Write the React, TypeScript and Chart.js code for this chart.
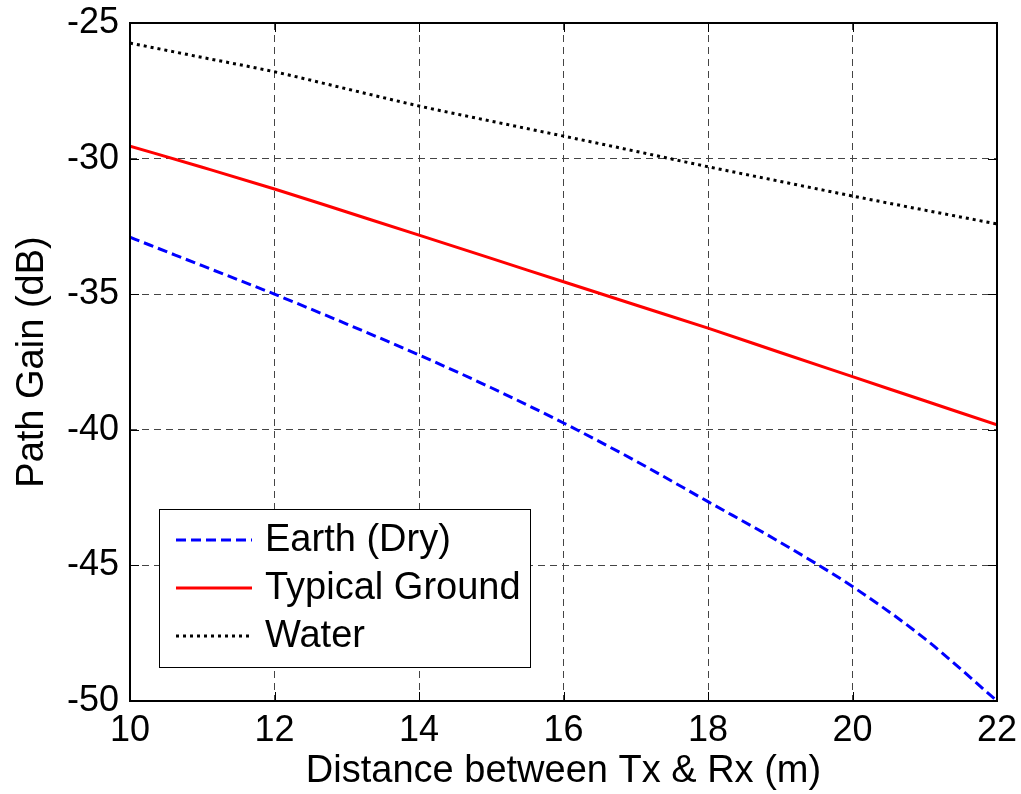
import { useEffect, useRef } from "react";
import { Chart, registerables } from "chart.js";

Chart.register(...registerables);

// ---- data ----
const distances = [10, 11, 12, 13, 14, 15, 16, 17, 18, 19, 20, 21, 22];
const earthDry = [-32.9, -33.95, -35.0, -36.1, -37.24, -38.45, -39.75, -41.15, -42.65, -44.15, -45.78, -47.7, -50.0];
const typicalGround = [-29.54, -30.32, -31.12, -31.97, -32.82, -33.68, -34.54, -35.4, -36.25, -37.15, -38.04, -38.93, -39.82];
const water = [-25.74, -26.27, -26.8, -27.43, -28.06, -28.62, -29.17, -29.73, -30.3, -30.84, -31.38, -31.9, -32.41];
const xTicks = [10, 12, 14, 16, 18, 20, 22];
const yTicks = [-25, -30, -35, -40, -45, -50];
const seriesLabels = ["Earth (Dry)", "Typical Ground", "Water"];
const xTitle = "Distance between Tx & Rx (m)";
const yTitle = "Path Gain (dB)";

const FONT_FAMILY = '"Liberation Sans", Arial, Helvetica, sans-serif';

const toPoints = (ys: number[]) => ys.map((y, i) => ({ x: distances[i], y }));

const framePlugin = {
  id: "frameBox",
  afterDraw(chart: any) {
    const { ctx, chartArea } = chart;
    const { left, top, right, bottom } = chartArea;
    const xs = chart.scales.x;
    const ys = chart.scales.y;
    ctx.save();
    ctx.strokeStyle = "#000";
    ctx.lineWidth = 1;
    ctx.setLineDash([]);
    const tl = 9;
    ctx.beginPath();
    xTicks.forEach((v) => {
      const px = Math.round(xs.getPixelForValue(v)) + 0.5;
      ctx.moveTo(px, bottom);
      ctx.lineTo(px, bottom - tl);
      ctx.moveTo(px, top);
      ctx.lineTo(px, top + tl);
    });
    yTicks.forEach((v) => {
      const py = Math.round(ys.getPixelForValue(v)) + 0.5;
      ctx.moveTo(left, py);
      ctx.lineTo(left + tl, py);
      ctx.moveTo(right, py);
      ctx.lineTo(right - tl, py);
    });
    ctx.stroke();
    ctx.lineWidth = 2;
    ctx.strokeRect(left, top, right - left, bottom - top);
    ctx.restore();
  },
};

const legendPlugin = {
  id: "boxLegend",
  afterDatasetsDraw(chart: any) {
    const { ctx, chartArea } = chart;
    const left = chartArea.left + 29;
    const top = chartArea.top + 486;
    const w = 371;
    const h = 158;
    ctx.save();
    ctx.fillStyle = "#fff";
    ctx.fillRect(left, top, w, h);
    ctx.strokeStyle = "#000";
    ctx.lineWidth = 1;
    ctx.setLineDash([]);
    ctx.strokeRect(left + 0.5, top + 0.5, w, h);
    chart.data.datasets.forEach((ds: any, i: number) => {
      const y = top + 31 + i * 48;
      ctx.beginPath();
      ctx.setLineDash(ds.borderDash || []);
      ctx.strokeStyle = ds.borderColor;
      ctx.lineWidth = ds.borderWidth;
      ctx.moveTo(left + 17, y);
      ctx.lineTo(left + 93, y);
      ctx.stroke();
      ctx.setLineDash([]);
      ctx.fillStyle = "#000";
      ctx.font = `38px ${FONT_FAMILY}`;
      ctx.textBaseline = "middle";
      ctx.textAlign = "left";
      ctx.fillText(ds.label, left + 106, y + 1);
    });
    ctx.restore();
  },
};

export default function App() {
  const canvasRef = useRef<HTMLCanvasElement | null>(null);

  useEffect(() => {
    if (!canvasRef.current) return;
    const chart = new Chart(canvasRef.current, {
      type: "line",
      data: {
        datasets: [
          {
            label: seriesLabels[0],
            data: toPoints(earthDry),
            borderColor: "#0000ff",
            borderWidth: 3,
            borderDash: [10, 5],
            pointRadius: 0,
            fill: false,
            cubicInterpolationMode: "monotone",
          },
          {
            label: seriesLabels[1],
            data: toPoints(typicalGround),
            borderColor: "#ff0000",
            borderWidth: 3,
            pointRadius: 0,
            fill: false,
            cubicInterpolationMode: "monotone",
          },
          {
            label: seriesLabels[2],
            data: toPoints(water),
            borderColor: "#000000",
            borderWidth: 3,
            borderDash: [3, 4],
            pointRadius: 0,
            fill: false,
            cubicInterpolationMode: "monotone",
          },
        ],
      },
      options: {
        responsive: false,
        animation: false,
        devicePixelRatio: 1,
        layout: { padding: { left: 0, top: 23, right: 24, bottom: 0 } },
        plugins: {
          legend: { display: false },
          tooltip: { enabled: false },
        },
        scales: {
          x: {
            type: "linear",
            min: 10,
            max: 22,
            afterBuildTicks: (s: any) => {
              s.ticks = xTicks.map((v) => ({ value: v }));
            },
            afterFit: (s: any) => {
              s.height = 93;
              s.paddingLeft = 0;
              s.paddingRight = 0;
            },
            grid: { color: "#444", lineWidth: 1, drawTicks: false },
            border: { display: false, dash: [7, 5] },
            ticks: {
              color: "#000",
              padding: 8,
              maxRotation: 0,
              font: { family: FONT_FAMILY, size: 36 },
            },
            title: {
              display: true,
              text: xTitle,
              color: "#000",
              font: { family: FONT_FAMILY, size: 38 },
              padding: { top: 0, bottom: 0 },
            },
          },
          y: {
            type: "linear",
            min: -50,
            max: -25,
            afterBuildTicks: (s: any) => {
              s.ticks = yTicks.map((v) => ({ value: v }));
            },
            afterFit: (s: any) => {
              s.width = 130;
              s.paddingTop = 0;
              s.paddingBottom = 0;
            },
            grid: { color: "#444", lineWidth: 1, drawTicks: false },
            border: { display: false, dash: [7, 5] },
            ticks: {
              color: "#000",
              padding: 11,
              font: { family: FONT_FAMILY, size: 36 },
            },
            title: {
              display: true,
              text: yTitle,
              color: "#000",
              font: { family: FONT_FAMILY, size: 38 },
              padding: { top: 10, bottom: 0 },
            },
          },
        },
      },
      plugins: [legendPlugin, framePlugin],
    } as any);
    return () => chart.destroy();
  }, []);

  return (
    <div style={{ position: "fixed", left: 0, top: 0, width: 1021, height: 794, background: "#fff" }}>
      <canvas ref={canvasRef} width={1021} height={794} style={{ display: "block" }} />
    </div>
  );
}
